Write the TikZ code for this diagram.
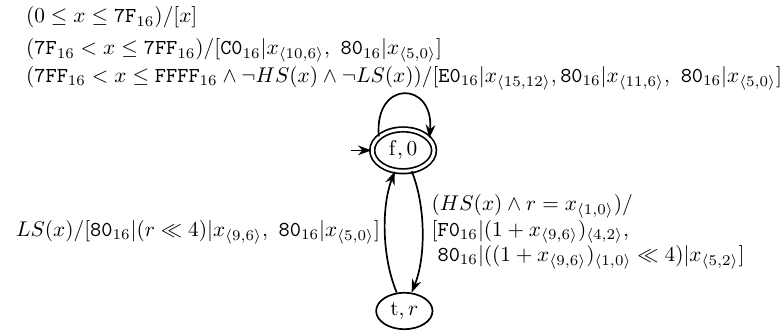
\documentclass[tikz,border=0pt]{standalone}
\usepackage{amsmath,amssymb}
\usetikzlibrary{automata,positioning,arrows.meta,shapes.geometric}
\newcommand{\hexv}[1]{\texttt{#1}_{16}}
\newcommand{\bits}[2]{x_{\langle #1,#2\rangle}}

\begin{document}
\begin{tikzpicture}[
    >={Stealth[length=2.2mm,width=1.6mm]},
    every state/.style={draw,thick,shape=ellipse,minimum width=0.93cm,minimum height=0.6cm,inner sep=1pt},
    accepting by double/.style={double,double distance=1.4pt,minimum width=1.02cm,minimum height=0.69cm},
    initial distance=0.33cm,
    trans/.style={->,thick},
    selfloop/.style={to path={.. controls +(95:0.95) and +(85:0.95) .. (\tikztotarget) \tikztonodes}},
    lbl/.style={align=left,inner sep=2pt}]
  \useasboundingbox (0,0) rectangle (12.9,5.53);
  \node[state,initial,initial text={},accepting] (f0) at (6.65,3.05) {$\mathrm{f},0$};
  \node[state] (tr) at (6.67,0.40) {$\mathrm{t},r$};
  % self loop on the initial state
  \path[trans] (f0.150) edge[selfloop]
      node[above=-0.5pt,lbl] {$(0 \leq x \leq \hexv{7F})/[x]$\\[3pt]
        $(\hexv{7F} < x \leq \hexv{7FF})/[\hexv{C0}|\bits{10}{6},\ \hexv{80}|\bits{5}{0}]$\\[1pt]
        $(\hexv{7FF} < x \leq \hexv{FFFF} \wedge \neg HS(x) \wedge \neg LS(x))/[\hexv{E0}|\bits{15}{12},\hexv{80}|\bits{11}{6},\ \hexv{80}|\bits{5}{0}]$}
      (f0.25);
  % surrogate pair
  \path[trans] (f0) edge[bend left=22,looseness=0.8]
      node[right=2pt,lbl] {$(HS(x) \wedge r = \bits{1}{0})/$\\
        $[\hexv{F0}|(1+\bits{9}{6})_{\langle 4,2\rangle},$\\
        $\phantom{[}\hexv{80}|((1+\bits{9}{6})_{\langle 1,0\rangle} \ll 4)|\bits{5}{2}]$}
      (tr);
  \path[trans] (tr) edge[bend left=22,looseness=0.8]
      node[left,lbl] {$LS(x)/[\hexv{80}|(r \ll 4)|\bits{9}{6},\ \hexv{80}|\bits{5}{0}]$}
      (f0);
\end{tikzpicture}
\end{document}
